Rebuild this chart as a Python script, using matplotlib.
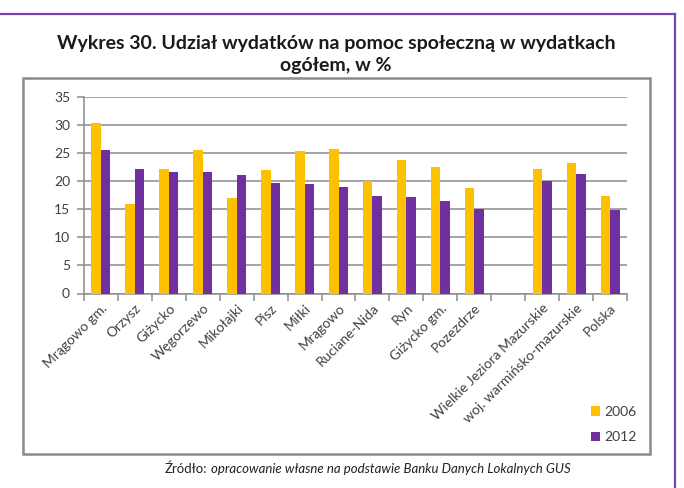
import matplotlib
matplotlib.use("Agg")
import matplotlib.pyplot as plt
import numpy as np

plt.rcParams['font.family'] = ['Lato', 'DejaVu Sans']

# data: share of social assistance spending in total expenditure, %
gminy = ['Mrągowo gm.', 'Orzysz', 'Giżycko', 'Węgorzewo', 'Mikołajki', 'Pisz',
         'Miłki', 'Mrągowo', 'Ruciane-Nida', 'Ryn', 'Giżycko gm.', 'Pozezdrze',
         '', 'Wielkie Jeziora Mazurskie', 'woj. warmińsko-mazurskie', 'Polska']
y2006 = [30.3, 15.9, 22.1, 25.5, 16.9, 21.9, 25.3, 25.7, 19.9, 23.7, 22.5, 18.7,
         np.nan, 22.1, 23.2, 17.3]
y2012 = [25.5, 22.1, 21.6, 21.6, 21.0, 19.6, 19.4, 18.9, 17.3, 17.1, 16.4, 15.0,
         np.nan, 19.9, 21.2, 14.9]

yellow = '#FFC000'
purple = '#7030A0'
grey = '#8C8C8C'

W, H = 684, 488
fig = plt.figure(figsize=(W / 100, H / 100), dpi=100)

def fx(px):
    return px / W

def fy(py):
    return 1 - py / H

# purple frame (top and right edges are visible)
fig.add_artist(plt.Line2D([0, fx(675)], [fy(14), fy(14)], color='#7B3FB0', lw=1.6))
fig.add_artist(plt.Line2D([fx(675), fx(675)], [fy(14), 0], color='#7B3FB0', lw=1.6))

# grey chart box
fig.add_artist(plt.Rectangle((fx(23), fy(454)), fx(650) - fx(23), fy(78) - fy(454),
                             fill=False, edgecolor='#8A8A8A', lw=1.8))

fig.text(fx(336), fy(44), 'Wykres 30. Udział wydatków na pomoc społeczną w wydatkach',
         ha='center', va='center', fontsize=14, fontweight='bold', color='#1a1a1a')
fig.text(fx(336), fy(65), 'ogółem, w %', ha='center', va='center', fontsize=14,
         fontweight='bold', color='#1a1a1a')

ax = fig.add_axes([fx(84), fy(293.5), fx(627) - fx(84), fy(96.5) - fy(293.5)])

x = np.arange(len(gminy))
bw = 0.28
ax.bar(x - bw / 2, y2006, bw, color=yellow, label='2006', zorder=3)
ax.bar(x + bw / 2, y2012, bw, color=purple, label='2012', zorder=3)

ax.set_xlim(-0.5, len(gminy) - 0.5)
ax.set_ylim(0, 35)
ax.set_yticks(range(0, 36, 5))
ax.yaxis.grid(True, color=grey, lw=1.1, zorder=0)
for s in ['top', 'right']:
    ax.spines[s].set_visible(False)
ax.spines['left'].set_color(grey)
ax.spines['bottom'].set_color(grey)
ax.spines['left'].set_linewidth(1.1)
ax.spines['bottom'].set_linewidth(1.1)

ax.set_xticks(np.arange(len(gminy) + 1) - 0.5)
ax.set_xticklabels([])
ax.set_xticks(x, minor=True)
ax.set_xticklabels(gminy, minor=True, rotation=45, ha='right', va='top',
                   rotation_mode='anchor', fontsize=10, color='#404040')
ax.tick_params(axis='x', which='major', length=5, color=grey, width=1.1)
ax.tick_params(axis='x', which='minor', length=0, pad=6)
ax.tick_params(axis='y', length=5, color=grey, width=1.1, labelsize=10,
               labelcolor='#404040', pad=5)

fig.legend(loc='upper left', bbox_to_anchor=(fx(578), fy(393)), frameon=False,
           fontsize=10, handlelength=0.7, handleheight=0.7, handletextpad=0.3,
           labelspacing=1.0, labelcolor='#404040')

fig.text(fx(207), fy(469), 'Źródło:', ha='right', va='center', fontsize=9.5, color='#222222')
fig.text(fx(211), fy(469), 'opracowanie własne na podstawie Banku Danych Lokalnych GUS',
         ha='left', va='center', fontsize=9.5, style='italic', color='#222222')

fig.savefig('out.png', dpi=100)
